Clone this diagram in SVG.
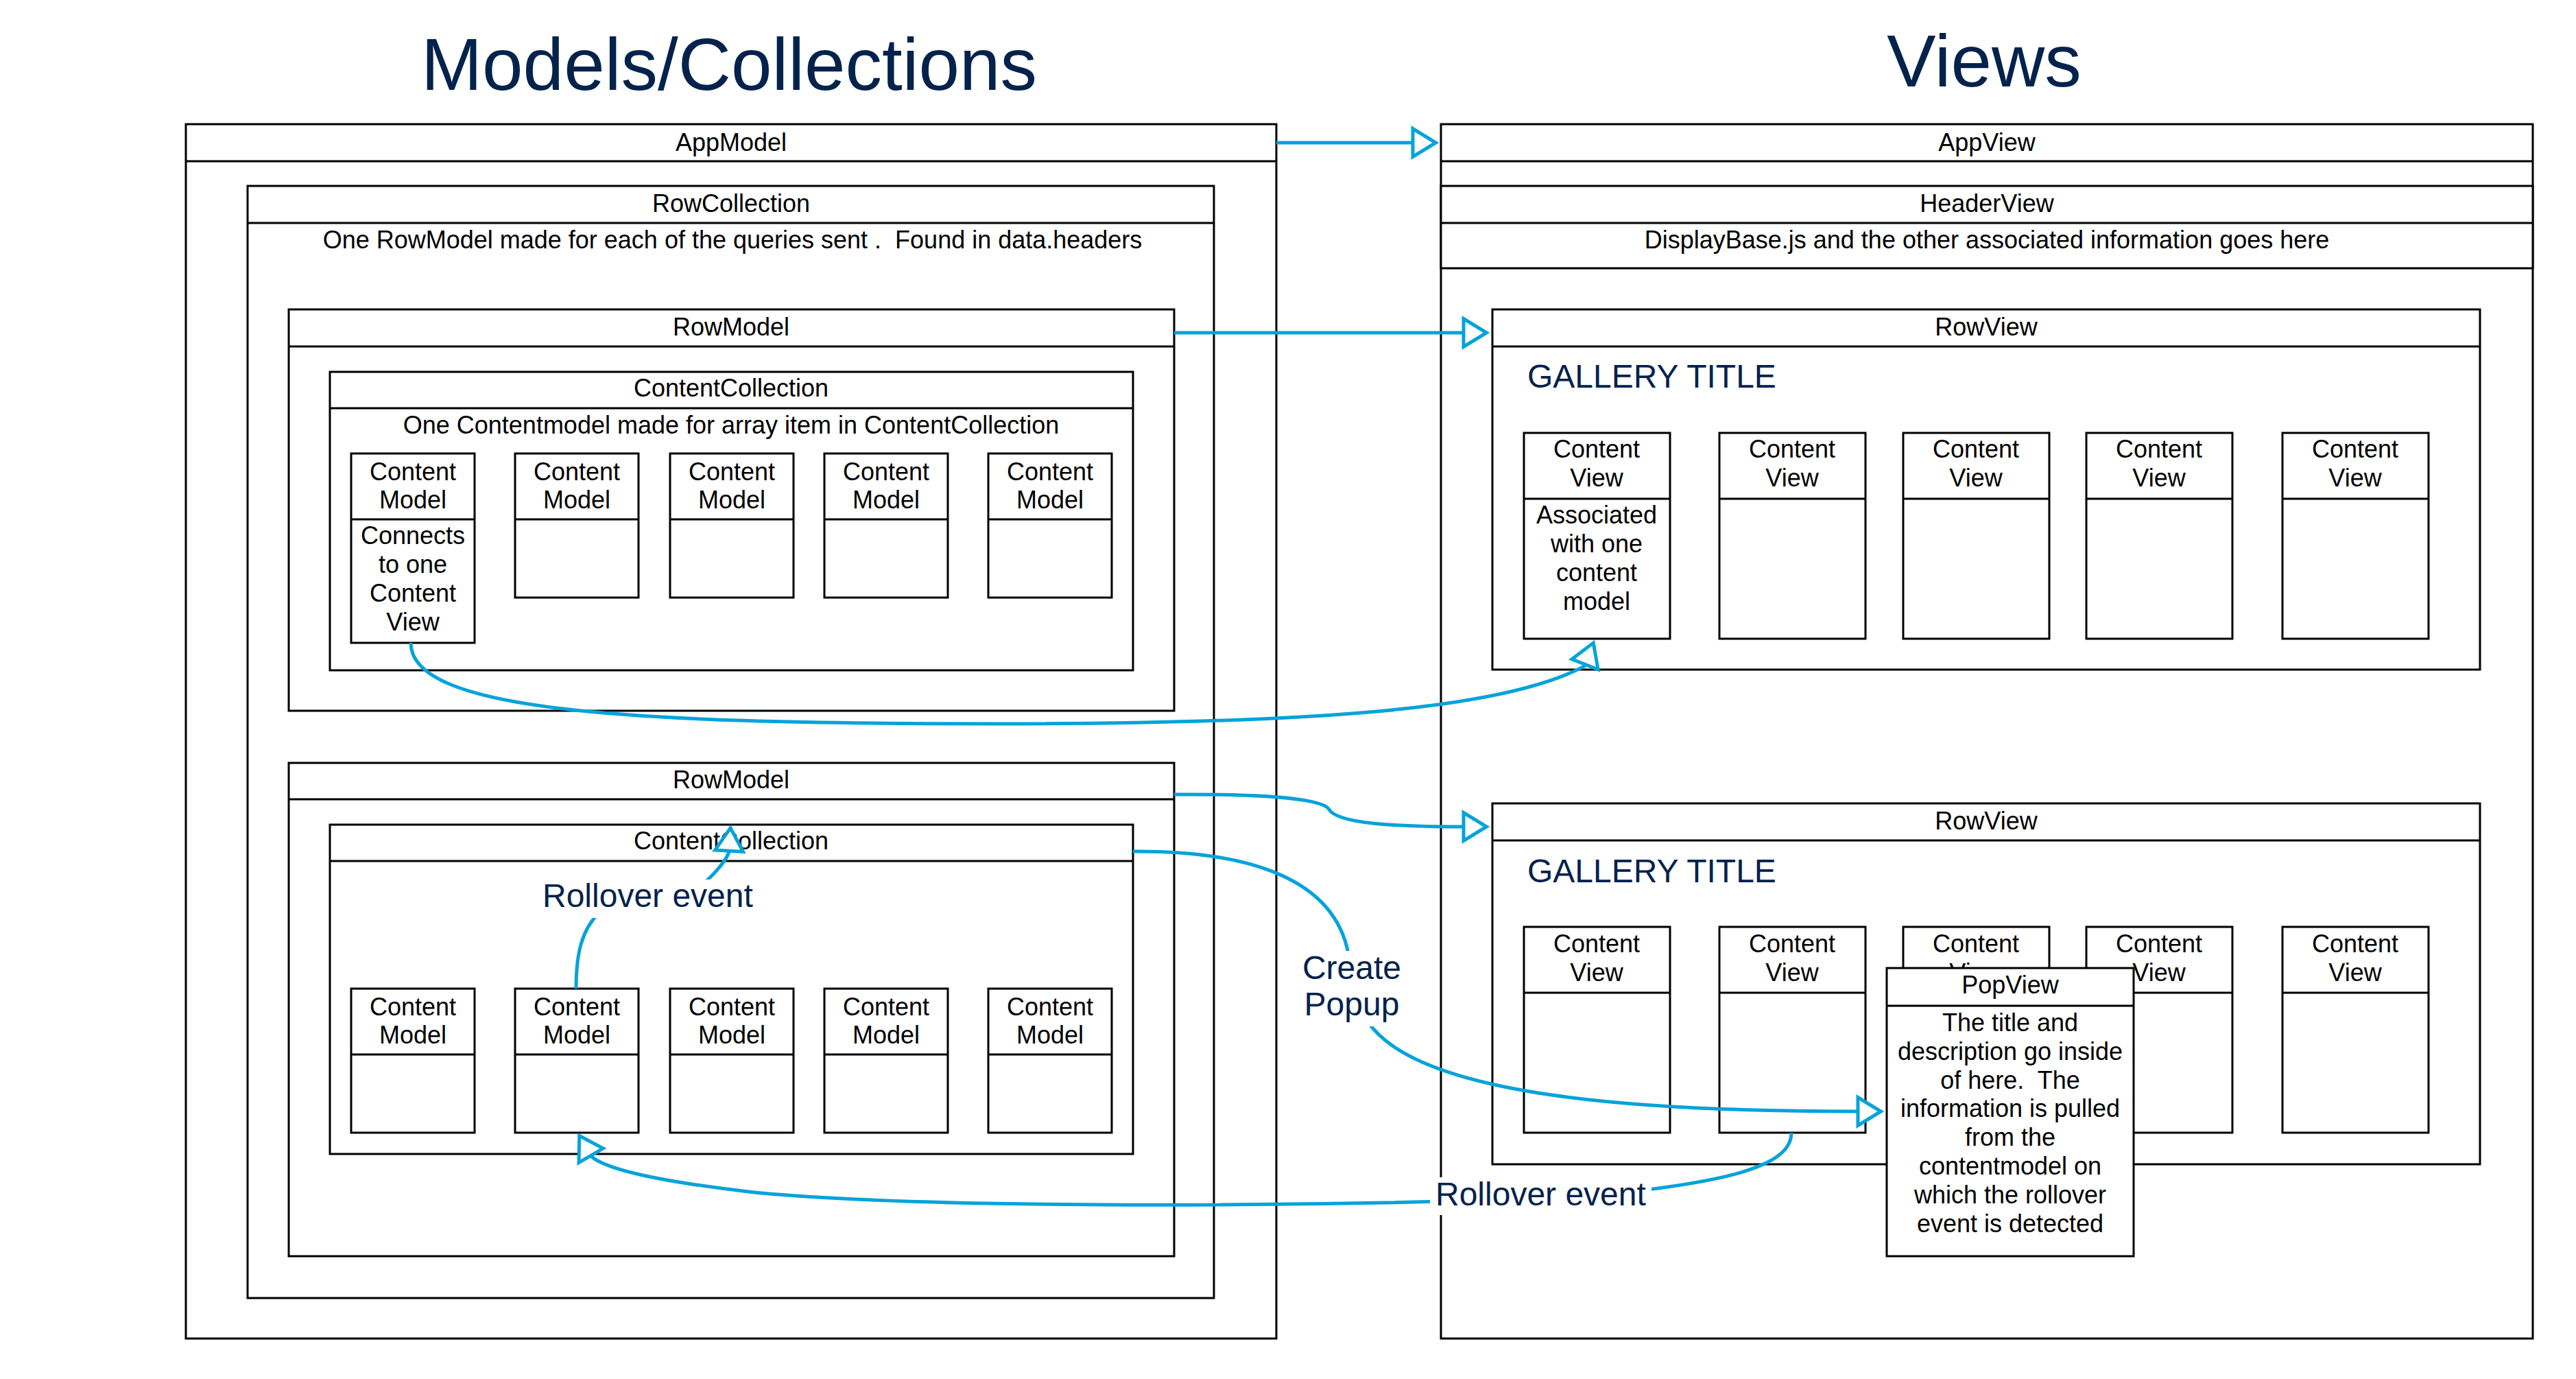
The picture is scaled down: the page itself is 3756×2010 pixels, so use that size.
<svg xmlns="http://www.w3.org/2000/svg" width="3756" height="2010" viewBox="0 0 3756 2010">
<style>
.box{fill:#fff;stroke:#000;stroke-width:3}
.hl{fill:none;stroke:#000;stroke-width:3}
.t{font-family:"Liberation Sans",Arial,sans-serif;font-size:36px;fill:#000;text-anchor:middle}
.title{font-family:"Liberation Sans",Arial,sans-serif;font-size:107px;fill:#03224c;text-anchor:middle}
.lbl{font-family:"Liberation Sans",Arial,sans-serif;font-size:48px;fill:#03224c}
.conn{fill:none;stroke:#05a3da;stroke-width:5}
.bg{fill:#fff;stroke:none}
</style>
<defs>
<marker id="arr" markerUnits="userSpaceOnUse" viewBox="-5 -25 50 50" markerWidth="50" markerHeight="50" refX="0" refY="0" orient="auto" overflow="visible">
<path d="M0,-20.5 L33.5,0 L0,20.5 Z" fill="#fff" stroke="#05a3da" stroke-width="5"/>
</marker>
</defs>
<rect width="3756" height="2010" fill="#fff"/>

<text class="title" x="1063" y="131">Models/Collections</text>
<text class="title" x="2893" y="126">Views</text>

<g id="AppModel">
<rect class="box" x="271" y="181" width="1590" height="1770"/>
<line class="hl" x1="271" y1="235" x2="1861" y2="235"/>
<text class="t" x="1066" y="220">AppModel</text>
</g>
<g id="RowCollection">
<rect class="box" x="361" y="271" width="1409" height="1621"/>
<line class="hl" x1="361" y1="325" x2="1770" y2="325"/>
<text class="t" x="1066" y="309">RowCollection</text>
<text class="t" x="1068" y="362" xml:space="preserve">One RowModel made for each of the queries sent .  Found in data.headers</text>
</g>
<g id="RowModel1">
<rect class="box" x="421" y="451" width="1291" height="585"/>
<line class="hl" x1="421" y1="505" x2="1712" y2="505"/>
<text class="t" x="1066" y="489">RowModel</text>
</g>
<g id="ContentCollection1">
<rect class="box" x="481" y="542" width="1171" height="435"/>
<line class="hl" x1="481" y1="595" x2="1652" y2="595"/>
<text class="t" x="1066" y="578">ContentCollection</text>
<text class="t" x="1066" y="632">One Contentmodel made for array item in ContentCollection</text>
</g>
<g id="ContentModel1a">
<rect class="box" x="512" y="661" width="180" height="276"/>
<line class="hl" x1="512" y1="757" x2="692" y2="757"/>
<text class="t" x="602" y="700">Content</text><text class="t" x="602" y="741">Model</text>
<text class="t" x="602" y="793">Connects</text><text class="t" x="602" y="835">to one</text>
<text class="t" x="602" y="877">Content</text><text class="t" x="602" y="919">View</text>
</g>
<g id="ContentModel1b">
<rect class="box" x="751" y="661" width="180" height="210"/>
<line class="hl" x1="751" y1="757" x2="931" y2="757"/>
<text class="t" x="841" y="700">Content</text><text class="t" x="841" y="741">Model</text>
</g>
<g id="ContentModel1c">
<rect class="box" x="977" y="661" width="180" height="210"/>
<line class="hl" x1="977" y1="757" x2="1157" y2="757"/>
<text class="t" x="1067" y="700">Content</text><text class="t" x="1067" y="741">Model</text>
</g>
<g id="ContentModel1d">
<rect class="box" x="1202" y="661" width="180" height="210"/>
<line class="hl" x1="1202" y1="757" x2="1382" y2="757"/>
<text class="t" x="1292" y="700">Content</text><text class="t" x="1292" y="741">Model</text>
</g>
<g id="ContentModel1e">
<rect class="box" x="1441" y="661" width="180" height="210"/>
<line class="hl" x1="1441" y1="757" x2="1621" y2="757"/>
<text class="t" x="1531" y="700">Content</text><text class="t" x="1531" y="741">Model</text>
</g>

<g id="RowModel2">
<rect class="box" x="421" y="1112" width="1291" height="719"/>
<line class="hl" x1="421" y1="1165" x2="1712" y2="1165"/>
<text class="t" x="1066" y="1149">RowModel</text>
</g>
<g id="ContentCollection2">
<rect class="box" x="481" y="1202" width="1171" height="480"/>
<line class="hl" x1="481" y1="1255" x2="1652" y2="1255"/>
<text class="t" x="1066" y="1238">ContentCollection</text>
</g>
<g id="ContentModel2a">
<rect class="box" x="512" y="1441" width="180" height="210"/>
<line class="hl" x1="512" y1="1537" x2="692" y2="1537"/>
<text class="t" x="602" y="1480">Content</text><text class="t" x="602" y="1521">Model</text>
</g>
<g id="ContentModel2b">
<rect class="box" x="751" y="1441" width="180" height="210"/>
<line class="hl" x1="751" y1="1537" x2="931" y2="1537"/>
<text class="t" x="841" y="1480">Content</text><text class="t" x="841" y="1521">Model</text>
</g>
<g id="ContentModel2c">
<rect class="box" x="977" y="1441" width="180" height="210"/>
<line class="hl" x1="977" y1="1537" x2="1157" y2="1537"/>
<text class="t" x="1067" y="1480">Content</text><text class="t" x="1067" y="1521">Model</text>
</g>
<g id="ContentModel2d">
<rect class="box" x="1202" y="1441" width="180" height="210"/>
<line class="hl" x1="1202" y1="1537" x2="1382" y2="1537"/>
<text class="t" x="1292" y="1480">Content</text><text class="t" x="1292" y="1521">Model</text>
</g>
<g id="ContentModel2e">
<rect class="box" x="1441" y="1441" width="180" height="210"/>
<line class="hl" x1="1441" y1="1537" x2="1621" y2="1537"/>
<text class="t" x="1531" y="1480">Content</text><text class="t" x="1531" y="1521">Model</text>
</g>

<g id="AppView">
<rect class="box" x="2101" y="181" width="1592" height="1770"/>
<line class="hl" x1="2101" y1="235" x2="3693" y2="235"/>
<text class="t" x="2897" y="220">AppView</text>
</g>
<g id="HeaderView">
<rect class="box" x="2101" y="271" width="1592" height="120"/>
<line class="hl" x1="2101" y1="325" x2="3693" y2="325"/>
<text class="t" x="2897" y="309">HeaderView</text>
<text class="t" x="2897" y="362">DisplayBase.js and the other associated information goes here</text>
</g>
<g id="RowView1">
<rect class="box" x="2176" y="451" width="1440" height="525"/>
<line class="hl" x1="2176" y1="505" x2="3616" y2="505"/>
<text class="t" x="2896" y="489">RowView</text>
<text class="lbl" x="2227" y="565">GALLERY TITLE</text>
</g>
<g id="ContentView1a">
<rect class="box" x="2222" y="631" width="213" height="300"/>
<line class="hl" x1="2222" y1="727" x2="2435" y2="727"/>
<text class="t" x="2328" y="667">Content</text><text class="t" x="2328" y="709">View</text>
<text class="t" x="2328" y="763">Associated</text><text class="t" x="2328" y="805">with one</text>
<text class="t" x="2328" y="847">content</text><text class="t" x="2328" y="889">model</text>
</g>
<g id="ContentView1b">
<rect class="box" x="2507" y="631" width="213" height="300"/>
<line class="hl" x1="2507" y1="727" x2="2720" y2="727"/>
<text class="t" x="2613" y="667">Content</text><text class="t" x="2613" y="709">View</text>
</g>
<g id="ContentView1c">
<rect class="box" x="2775" y="631" width="213" height="300"/>
<line class="hl" x1="2775" y1="727" x2="2988" y2="727"/>
<text class="t" x="2881" y="667">Content</text><text class="t" x="2881" y="709">View</text>
</g>
<g id="ContentView1d">
<rect class="box" x="3042" y="631" width="213" height="300"/>
<line class="hl" x1="3042" y1="727" x2="3255" y2="727"/>
<text class="t" x="3148" y="667">Content</text><text class="t" x="3148" y="709">View</text>
</g>
<g id="ContentView1e">
<rect class="box" x="3328" y="631" width="213" height="300"/>
<line class="hl" x1="3328" y1="727" x2="3541" y2="727"/>
<text class="t" x="3434" y="667">Content</text><text class="t" x="3434" y="709">View</text>
</g>

<g id="RowView2">
<rect class="box" x="2176" y="1171" width="1440" height="526"/>
<line class="hl" x1="2176" y1="1225" x2="3616" y2="1225"/>
<text class="t" x="2896" y="1209">RowView</text>
<text class="lbl" x="2227" y="1286">GALLERY TITLE</text>
</g>
<g id="ContentView2a">
<rect class="box" x="2222" y="1351" width="213" height="300"/>
<line class="hl" x1="2222" y1="1447" x2="2435" y2="1447"/>
<text class="t" x="2328" y="1388">Content</text><text class="t" x="2328" y="1430">View</text>
</g>
<g id="ContentView2b">
<rect class="box" x="2507" y="1351" width="213" height="300"/>
<line class="hl" x1="2507" y1="1447" x2="2720" y2="1447"/>
<text class="t" x="2613" y="1388">Content</text><text class="t" x="2613" y="1430">View</text>
</g>
<g id="ContentView2c">
<rect class="box" x="2775" y="1351" width="213" height="300"/>
<line class="hl" x1="2775" y1="1447" x2="2988" y2="1447"/>
<text class="t" x="2881" y="1388">Content</text><text class="t" x="2881" y="1430">View</text>
</g>
<g id="ContentView2d">
<rect class="box" x="3042" y="1351" width="213" height="300"/>
<line class="hl" x1="3042" y1="1447" x2="3255" y2="1447"/>
<text class="t" x="3148" y="1388">Content</text><text class="t" x="3148" y="1430">View</text>
</g>
<g id="ContentView2e">
<rect class="box" x="3328" y="1351" width="213" height="300"/>
<line class="hl" x1="3328" y1="1447" x2="3541" y2="1447"/>
<text class="t" x="3434" y="1388">Content</text><text class="t" x="3434" y="1430">View</text>
</g>
<g id="PopView">
<rect class="box" x="2751" y="1411" width="360" height="420"/>
<line class="hl" x1="2751" y1="1466" x2="3111" y2="1466"/>
<text class="t" x="2931" y="1448">PopView</text>
<text class="t" x="2931" y="1503">The title and</text>
<text class="t" x="2931" y="1545">description go inside</text>
<text class="t" x="2931" y="1587" xml:space="preserve">of here.  The</text>
<text class="t" x="2931" y="1628">information is pulled</text>
<text class="t" x="2931" y="1670">from the</text>
<text class="t" x="2931" y="1712">contentmodel on</text>
<text class="t" x="2931" y="1754">which the rollover</text>
<text class="t" x="2931" y="1796">event is detected</text>
</g>

<g id="connectors">
<path class="conn" marker-end="url(#arr)" d="M1861,208 L2060,208"/>
<path class="conn" marker-end="url(#arr)" d="M1712,485 L2134,485"/>
<path class="conn" marker-end="url(#arr)" d="M1712,1158 C1850,1157 1930,1165 1938,1180 C1950,1200 2030,1205 2134,1205"/>
<path class="conn" marker-end="url(#arr)" d="M599,937 C599,1035 900,1055 1450,1055 C1950,1055 2200,1030 2309.9,971.1 L2311,968.3"/>
<path class="conn" marker-end="url(#arr)" d="M840,1441 C840,1390 848,1355 874,1330 L1030,1284 C1045,1270 1058,1255 1063,1242 L1063.1,1240.3"/>
<path class="conn" marker-end="url(#arr)" d="M1652,1241 C1820,1240 1945,1280 1966,1390 L1995,1490 C2070,1600 2400,1620 2709,1620"/>
<path class="conn" marker-end="url(#arr)" d="M2612,1651 C2612,1700 2520,1725 2300,1745 C1900,1760 1350,1762 1100,1738 C960,1722 885,1705 862.7,1686 L861.7,1684.3"/>
</g>

<g id="labels">
<rect class="bg" x="785" y="1282" width="313" height="56"/>
<text class="lbl" x="791" y="1322">Rollover event</text>
<rect class="bg" x="1893" y="1386" width="157" height="110"/>
<text class="lbl" x="1971" y="1427" text-anchor="middle">Create</text>
<text class="lbl" x="1971" y="1480" text-anchor="middle">Popup</text>
<rect class="bg" x="2085" y="1716" width="323" height="55"/>
<text class="lbl" x="2093" y="1757">Rollover event</text>
</g>
</svg>
